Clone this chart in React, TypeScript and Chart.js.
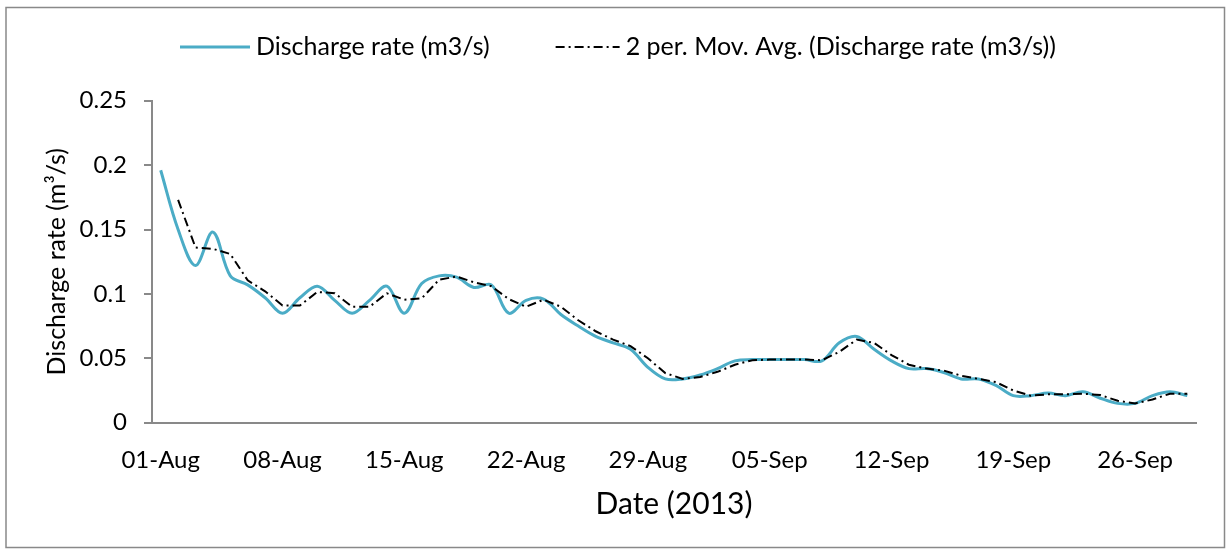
import React, { useEffect, useRef } from "react";
import { Chart, registerables } from "chart.js";

Chart.register(...registerables);

// ---- data ----
const DATES: string[] = [
  "01-Aug", "02-Aug", "03-Aug", "04-Aug", "05-Aug", "06-Aug", "07-Aug",
  "08-Aug", "09-Aug", "10-Aug", "11-Aug", "12-Aug", "13-Aug", "14-Aug",
  "15-Aug", "16-Aug", "17-Aug", "18-Aug", "19-Aug", "20-Aug", "21-Aug",
  "22-Aug", "23-Aug", "24-Aug", "25-Aug", "26-Aug", "27-Aug", "28-Aug",
  "29-Aug", "30-Aug", "31-Aug", "01-Sep", "02-Sep", "03-Sep", "04-Sep",
  "05-Sep", "06-Sep", "07-Sep", "08-Sep", "09-Sep", "10-Sep", "11-Sep",
  "12-Sep", "13-Sep", "14-Sep", "15-Sep", "16-Sep", "17-Sep", "18-Sep",
  "19-Sep", "20-Sep", "21-Sep", "22-Sep", "23-Sep", "24-Sep", "25-Sep",
  "26-Sep", "27-Sep", "28-Sep", "29-Sep",
];

const DISCHARGE: number[] = [
  0.196, 0.150, 0.122, 0.148, 0.114, 0.107, 0.097,
  0.085, 0.097, 0.106, 0.095, 0.085, 0.095, 0.106,
  0.085, 0.108, 0.114, 0.113, 0.105, 0.107, 0.085,
  0.095, 0.096, 0.084, 0.075, 0.067, 0.062, 0.057,
  0.043, 0.034, 0.034, 0.037, 0.042, 0.048, 0.049,
  0.049, 0.049, 0.049, 0.048, 0.062, 0.067, 0.057,
  0.048, 0.042, 0.042, 0.039, 0.034, 0.034, 0.029,
  0.021, 0.021, 0.023, 0.021, 0.024, 0.019, 0.015,
  0.015, 0.021, 0.024, 0.021,
];

const TICK_LABELS: string[] = [
  "01-Aug", "08-Aug", "15-Aug", "22-Aug", "29-Aug",
  "05-Sep", "12-Sep", "19-Sep", "26-Sep",
];

const SERIES_LABEL = "Discharge rate (m3/s)";
const TREND_LABEL = "2 per. Mov. Avg. (Discharge rate (m3/s))";
const X_TITLE = "Date (2013)";
const Y_TITLE = "Discharge rate (m\u00B3/s)";
const Y_MIN = 0;
const Y_MAX = 0.25;
const Y_STEP = 0.05;
const TREND_PERIOD = 2;

// Excel's "2 per. Mov. Avg." trendline: mean of the current and previous point
function movingAverage(values: number[], period: number): (number | null)[] {
  return values.map((_, i) => {
    if (i < period - 1) return null;
    let s = 0;
    for (let k = i - period + 1; k <= i; k++) s += values[k];
    return s / period;
  });
}

// ---- style ----
const FONT = "Lato, 'Open Sans', sans-serif";
const AXIS_COLOR = "#898989";
const BLUE = "#4BACC6";

const frameAndLegend = {
  id: "frameAndLegend",
  beforeDraw(chart: any) {
    const { ctx, width, height } = chart;
    ctx.save();
    ctx.fillStyle = "#ffffff";
    ctx.fillRect(0, 0, width, height);
    ctx.strokeStyle = AXIS_COLOR;
    ctx.lineWidth = 1.5;
    ctx.strokeRect(6, 7.5, 1218.5, 540);
    ctx.restore();
  },
  afterDraw(chart: any) {
    const { ctx } = chart;
    const ds = chart.data.datasets;
    const fontSize = 25;
    const sampleW = [70, 64];
    const textGap = 6;
    const itemGap = 66;
    const startX = 180;
    const y = 47;
    ctx.save();
    ctx.font = `${fontSize}px ${FONT}`;
    let x = startX;
    ds.forEach((d: any, i: number) => {
      ctx.beginPath();
      ctx.strokeStyle = d.borderColor;
      ctx.lineWidth = d.borderWidth;
      ctx.setLineDash(d.borderDash || []);
      ctx.moveTo(x, y);
      ctx.lineTo(x + sampleW[i], y);
      ctx.stroke();
      ctx.setLineDash([]);
      x += sampleW[i] + textGap;
      ctx.fillStyle = "#000";
      ctx.textBaseline = "middle";
      ctx.textAlign = "left";
      ctx.fillText(d.label, x, y);
      x += ctx.measureText(d.label).width + itemGap;
    });
    ctx.restore();
  },
};

export default function App() {
  const canvasRef = useRef<HTMLCanvasElement | null>(null);

  useEffect(() => {
    if (!canvasRef.current) return;
    const chart = new Chart(canvasRef.current, {
      type: "line",
      data: {
        labels: DATES,
        datasets: [
          {
            label: SERIES_LABEL,
            data: DISCHARGE,
            borderColor: BLUE,
            borderWidth: 3,
            pointRadius: 0,
            tension: 0.35,
            fill: false,
            order: 1,
          },
          {
            label: TREND_LABEL,
            data: movingAverage(DISCHARGE, TREND_PERIOD),
            borderColor: "#000000",
            borderWidth: 2,
            borderDash: [9, 4, 2, 4],
            pointRadius: 0,
            tension: 0,
            fill: false,
            order: 0,
          },
        ],
      },
      options: {
        responsive: false,
        animation: false,
        devicePixelRatio: 1,
        layout: { padding: { left: 0, right: 31, top: 100.7, bottom: 0 } },
        plugins: {
          legend: { display: false },
          tooltip: { enabled: false },
        },
        scales: {
          x: {
            type: "category",
            offset: true,
            grid: { display: false },
            border: { display: true, color: AXIS_COLOR, width: 2 },
            ticks: {
              autoSkip: false,
              maxRotation: 0,
              minRotation: 0,
              padding: 15,
              color: "#000",
              font: { family: FONT, size: 24 },
              callback: function (this: any, val: any) {
                const lbl = this.getLabelForValue(val);
                return TICK_LABELS.includes(lbl) ? lbl : null;
              },
            },
            title: {
              display: true,
              text: X_TITLE,
              color: "#000",
              font: { family: FONT, size: 30 },
              padding: { top: 0, bottom: 29 },
            },
            afterFit: (scale: any) => {
              scale.height = 551 - 422.7;
            },
          },
          y: {
            min: Y_MIN,
            max: Y_MAX,
            grid: {
              display: true,
              drawOnChartArea: false,
              drawTicks: true,
              tickLength: 8,
              color: AXIS_COLOR,
              lineWidth: 2,
            },
            border: { display: true, color: AXIS_COLOR, width: 2 },
            ticks: {
              stepSize: Y_STEP,
              padding: 17,
              color: "#000",
              font: { family: FONT, size: 24 },
              callback: (v: any) => String(Number(Number(v).toFixed(2))),
            },
            title: {
              display: true,
              text: Y_TITLE,
              color: "#000",
              font: { family: FONT, size: 25 },
              padding: { top: 42, bottom: 0 },
            },
            afterFit: (scale: any) => {
              scale.width = 152;
            },
          },
        },
      },
      plugins: [frameAndLegend],
    });
    return () => chart.destroy();
  }, []);

  return (
    <div style={{ position: "absolute", left: 0, top: 0, width: 1227, height: 551 }}>
      <canvas ref={canvasRef} width={1227} height={551} style={{ width: 1227, height: 551 }} />
    </div>
  );
}
